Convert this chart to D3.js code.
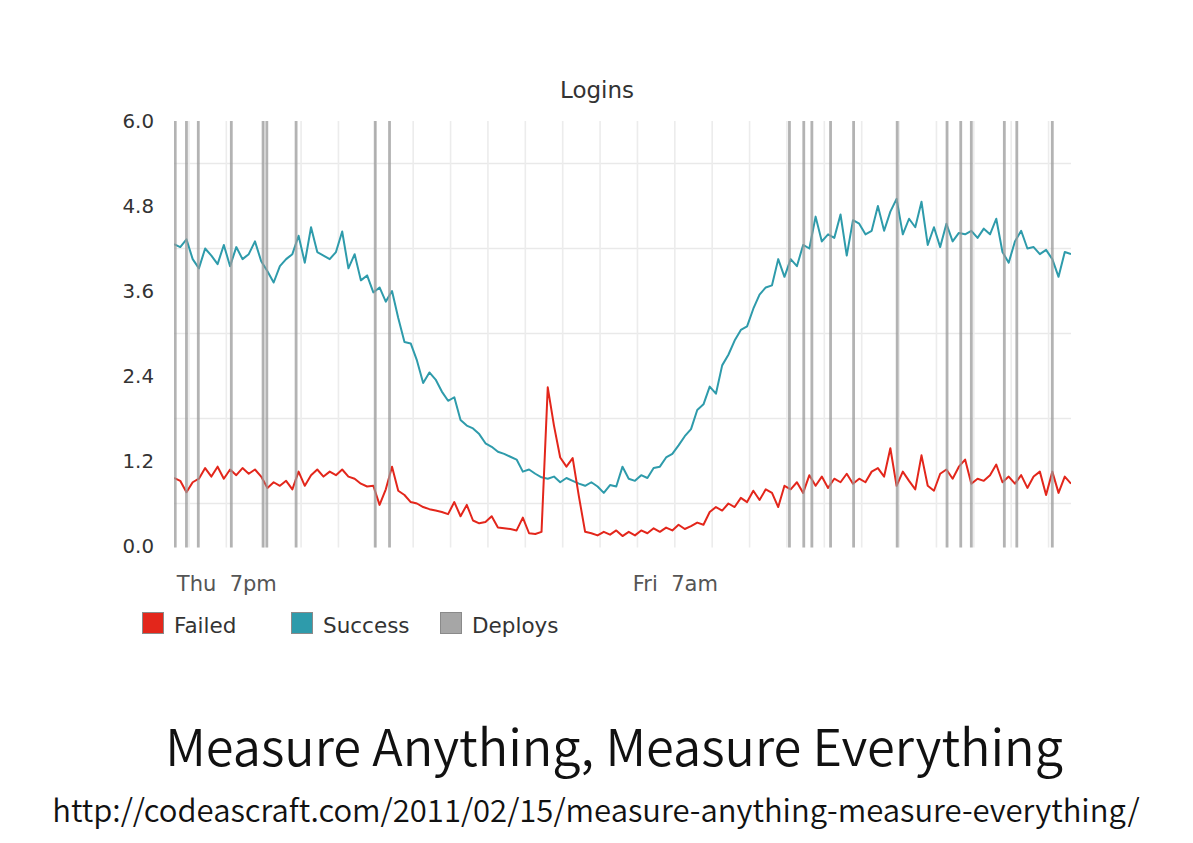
<!DOCTYPE html>
<html>
<head>
<meta charset="utf-8">
<script src="https://cdn.jsdelivr.net/npm/d3@7"></script>
<style>
  html, body { margin: 0; padding: 0; background: #fff; }
  svg { display: block; }
</style>
</head>
<body>
<svg id="chart" width="1193" height="843"></svg>
<script>
// ---------------- DATA ----------------
const chartTitle = "Logins";
const seriesNames = ["Failed", "Success", "Deploys"];
const seriesStart = "2011-02-10T17:36";   // first sample (Thu)
const stepMinutes = 10;
const domainStart = "2011-02-10T17:36";
const domainEnd   = "2011-02-11T17:36";

const failed = [
  0.96,0.92,0.76,0.90,0.95,1.10,0.98,1.12,0.95,1.08,
  1.00,1.10,1.02,1.08,0.98,0.82,0.90,0.85,0.92,0.80,
  1.05,0.85,1.00,1.08,0.98,1.05,1.00,1.08,0.98,0.95,
  0.88,0.84,0.85,0.58,0.80,1.12,0.78,0.72,0.62,0.60,
  0.55,0.52,0.50,0.48,0.45,0.62,0.42,0.58,0.36,0.32,
  0.34,0.42,0.26,0.25,0.24,0.22,0.40,0.18,0.17,0.20,
  2.24,1.70,1.25,1.12,1.24,0.70,0.20,0.18,0.15,0.20,
  0.16,0.22,0.14,0.20,0.15,0.22,0.18,0.25,0.20,0.26,
  0.22,0.30,0.24,0.28,0.33,0.30,0.48,0.55,0.50,0.60,
  0.55,0.68,0.62,0.78,0.65,0.80,0.75,0.55,0.85,0.80,
  0.90,0.75,1.00,0.85,0.98,0.82,0.95,0.90,1.02,0.88,
  0.95,0.90,1.05,1.10,0.98,1.38,0.85,1.05,0.92,0.80,
  1.28,0.85,0.78,1.02,1.08,0.95,1.12,1.22,0.88,0.95,
  0.92,1.00,1.15,0.90,0.98,0.88,1.00,0.82,0.98,1.05,
  0.72,1.05,0.75,0.98,0.88
];

const success = [
  4.26,4.22,4.33,4.05,3.92,4.20,4.10,3.98,4.25,3.95,
  4.22,4.05,4.12,4.30,4.02,3.88,3.72,3.95,4.05,4.12,
  4.38,4.00,4.50,4.15,4.10,4.05,4.15,4.44,3.92,4.12,
  3.75,3.82,3.58,3.65,3.45,3.60,3.22,2.88,2.86,2.62,
  2.30,2.45,2.35,2.18,2.05,2.10,1.78,1.70,1.66,1.58,
  1.45,1.40,1.33,1.30,1.26,1.22,1.05,1.08,1.02,0.97,
  0.95,0.98,0.90,0.96,0.92,0.88,0.85,0.90,0.84,0.75,
  0.86,0.84,1.12,0.95,0.92,1.00,0.96,1.10,1.12,1.25,
  1.30,1.42,1.55,1.65,1.92,2.00,2.25,2.15,2.55,2.70,
  2.90,3.05,3.10,3.35,3.55,3.65,3.68,4.05,3.80,4.05,
  3.95,4.25,4.20,4.65,4.30,4.40,4.35,4.68,4.10,4.60,
  4.55,4.40,4.45,4.80,4.45,4.72,4.90,4.40,4.62,4.50,
  4.86,4.25,4.50,4.22,4.55,4.30,4.42,4.40,4.45,4.35,
  4.48,4.40,4.62,4.15,4.00,4.30,4.45,4.20,4.22,4.12,
  4.18,4.05,3.80,4.15,4.12
];

const deploys = [
  "2011-02-10T17:38","2011-02-10T17:56","2011-02-10T18:15","2011-02-10T19:08",
  "2011-02-10T19:59","2011-02-10T20:05","2011-02-10T20:52","2011-02-10T22:59",
  "2011-02-10T23:22",
  "2011-02-11T10:04","2011-02-11T10:27","2011-02-11T10:40","2011-02-11T11:10",
  "2011-02-11T11:47","2011-02-11T12:57","2011-02-11T14:17","2011-02-11T14:39",
  "2011-02-11T14:56","2011-02-11T15:49","2011-02-11T16:09","2011-02-11T17:06"
];

const yTickValues = [0, 1.2, 2.4, 3.6, 4.8, 6.0];
const yGridValues = [0.6, 1.8, 3.0, 4.2, 5.4];
const xTickTimes  = ["2011-02-10T19:00", "2011-02-11T07:00"];
const xTickLabels = ["Thu  7pm", "Fri  7am"];

const slideTitle = "Measure Anything, Measure Everything";
const slideUrl   = "http://codeascraft.com/2011/02/15/measure-anything-measure-everything/";

// ---------------- STYLE ----------------
const colors = { Failed: "#e3261b", Success: "#2e9bab", Deploys: "#a6a6a6" };
const chartFont = "'DejaVu Sans', Verdana, sans-serif";
const margin = { left: 174, right: 1071, top: 121, bottom: 546 };

// ---------------- DRAW ----------------
const parse = d3.timeParse("%Y-%m-%dT%H:%M");
const t0 = parse(seriesStart);
const timeAt = i => new Date(t0.getTime() + i * stepMinutes * 60000);

const x = d3.scaleTime()
  .domain([parse(domainStart), parse(domainEnd)])
  .range([margin.left, margin.right]);
const y = d3.scaleLinear().domain([0, 6]).range([margin.bottom, margin.top]);

const svg = d3.select("#chart");

svg.append("defs").append("clipPath").attr("id", "plotclip")
  .append("rect")
  .attr("x", margin.left).attr("y", margin.top - 2)
  .attr("width", margin.right - margin.left)
  .attr("height", margin.bottom - margin.top + 4);

// Grid
const gridG = svg.append("g");
gridG.selectAll("line.h").data(yGridValues).join("line")
  .attr("x1", margin.left).attr("x2", margin.right)
  .attr("y1", d => y(d)).attr("y2", d => y(d))
  .attr("stroke", "#e9e9e9").attr("stroke-width", 1.6);

const hourTicks = x.ticks(d3.timeHour.every(1));
gridG.selectAll("line.v").data(hourTicks).join("line")
  .attr("x1", d => x(d)).attr("x2", d => x(d))
  .attr("y1", margin.top).attr("y2", margin.bottom + 1.5)
  .attr("stroke", "#ececec").attr("stroke-width", 1.6);

// Title
svg.append("text")
  .attr("x", 597).attr("y", 98)
  .attr("text-anchor", "middle")
  .attr("font-family", chartFont)
  .attr("font-size", 23)
  .attr("fill", "#333")
  .text(chartTitle);

// Y axis
const yAxis = svg.append("g")
  .attr("transform", `translate(${154},0)`)
  .call(d3.axisLeft(y).tickValues(yTickValues).tickSize(0).tickPadding(0).tickFormat(d3.format(".1f")));
yAxis.select(".domain").remove();
yAxis.selectAll("text")
  .attr("font-family", chartFont).attr("font-size", 19.8).attr("fill", "#333");

// X axis
const xAxis = svg.append("g")
  .attr("transform", `translate(0,${576})`)
  .call(d3.axisBottom(x).tickValues(xTickTimes.map(parse)).tickSize(0).tickPadding(0)
    .tickFormat((d, i) => xTickLabels[i]));
xAxis.select(".domain").remove();
xAxis.selectAll("text")
  .attr("font-family", chartFont).attr("font-size", 21).attr("fill", "#555")
  .style("white-space", "pre");

// Lines
const line = d3.line().x((d, i) => x(timeAt(i))).y(d => y(d));
const linesG = svg.append("g").attr("clip-path", "url(#plotclip)");
linesG.append("path").datum(success)
  .attr("d", line).attr("fill", "none")
  .attr("stroke", colors.Success).attr("stroke-width", 2).attr("stroke-linejoin", "round");
linesG.append("path").datum(failed)
  .attr("d", line).attr("fill", "none")
  .attr("stroke", colors.Failed).attr("stroke-width", 2).attr("stroke-linejoin", "round");

// Deploys (drawn as infinite)
linesG.selectAll("line.deploy").data(deploys.map(parse)).join("line")
  .attr("x1", d => x(d)).attr("x2", d => x(d))
  .attr("y1", margin.top).attr("y2", margin.bottom + 1.5)
  .attr("stroke", "#9a9a9a").attr("stroke-opacity", 0.75).attr("stroke-width", 2.8);

// Legend
const legend = svg.append("g").attr("transform", "translate(142,612)");
const legItems = legend.selectAll("g").data(seriesNames).join("g")
  .attr("transform", (d, i) => `translate(${i * 149},0)`);
legItems.append("rect")
  .attr("x", 0.5).attr("y", 0.5).attr("width", 21).attr("height", 21)
  .attr("fill", d => colors[d])
  .attr("stroke", "#8a8a8a").attr("stroke-width", 1);
legItems.append("text")
  .attr("x", 32).attr("y", 21)
  .attr("font-family", chartFont).attr("font-size", 21.5).attr("fill", "#333")
  .text(d => d);

// Slide texts, fitted to their measured widths
function fitText(txt, x1, x2, baseline, size, family, color) {
  const t = svg.append("text")
    .attr("x", (x1 + x2) / 2).attr("y", baseline)
    .attr("text-anchor", "middle")
    .attr("font-family", family).attr("font-size", size).attr("fill", color)
    .attr("font-weight", 350)
    .text(txt);
  const w = t.node().getComputedTextLength();
  if (w > 0) t.attr("font-size", size * (x2 - x1) / w);
  return t;
}
fitText(slideTitle, 165, 1063, 766, 44, "'Noto Sans CJK JP', 'Noto Sans', sans-serif", "#111");
fitText(slideUrl, 52, 1140, 822, 27, "'Noto Sans CJK JP', 'Noto Sans', sans-serif", "#111");
</script>
</body>
</html>
